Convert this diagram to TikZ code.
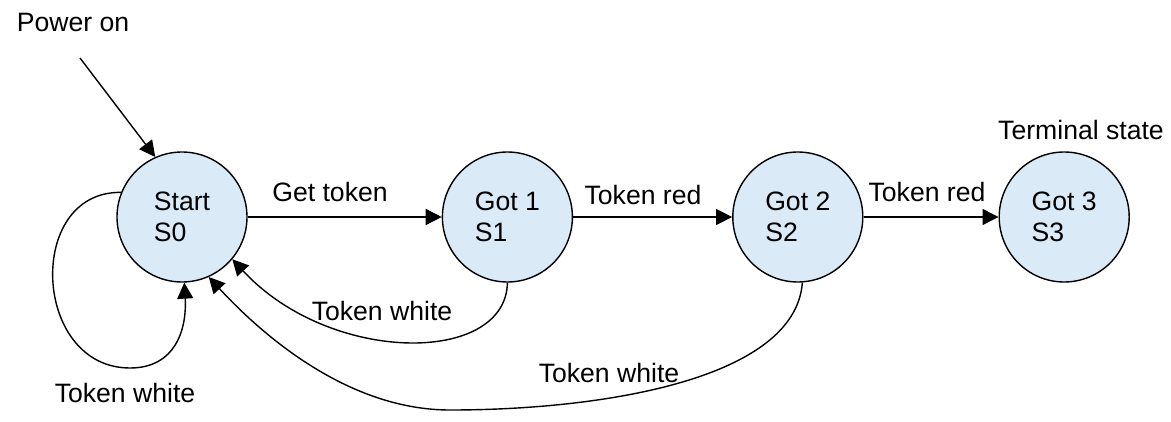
\documentclass[tikz,border=0pt]{standalone}
\usepackage{fontspec}
\setmainfont{Liberation Sans}
\usetikzlibrary{positioning,arrows.meta}
\definecolor{statefill}{RGB}{218,234,247}
\tikzset{
  statecirc/.style={draw, circle, fill=statefill, line width=0.7pt, minimum size=65pt, inner sep=0pt, align=left},
  lbl/.style={inner sep=0pt},
  arr/.style={-{Triangle[length=8pt,width=8pt]}, line width=0.7pt},
}

\begin{document}
\begin{tikzpicture}[x=0.5pt,y=-0.5pt,font=\fontsize{13.3}{15.5}\selectfont]
        \useasboundingbox (0,0) rectangle (1171,422);
        \node[statecirc] (s0) at (182,217) {Start\\S0};
        \node[statecirc, right=97pt of s0] (s1) {Got 1\\S1};
        \node[statecirc, right=79.5pt of s1] (s2) {Got 2\\S2};
        \node[statecirc, right=67.5pt of s2] (s3) {Got 3\\S3};
        % labels
        \node[lbl] (pwrlbl) at (73,22) {Power on};
        \node[lbl] (termlbl) at (1081,130) {Terminal state};
        \node[lbl] (getlbl) at (330,192) {Get token};
        \node[lbl] (red1lbl) at (643,195) {Token red};
        \node[lbl] (red2lbl) at (927,192) {Token red};
        \node[lbl] (white1lbl) at (382,311) {Token white};
        \node[lbl] (white2lbl) at (609,373) {Token white};
        \node[lbl] (looplbl) at (125,393) {Token white};
        % transitions
        \coordinate (pwr) at (80,58);
        \draw[arr] (pwr) -- (s0.114);
        \draw[arr] (s0) -- (s1);
        \draw[arr] (s1) -- (s2);
        \draw[arr] (s2) -- (s3);
        \draw[arr] (s0.158) .. controls (25,191) and (32,368) .. (130,368) .. controls (175,368) and (187,330) .. (s0.-88);
        \draw[arr] (s1.-90) .. controls (506,365) and (330,365) .. (s0.-40);
        \draw[arr] (s2.-86) .. controls (795,380) and (600,410) .. (450,410) .. controls (350,410) and (265,338) .. (s0.-66);
    \end{tikzpicture}
\end{document}
